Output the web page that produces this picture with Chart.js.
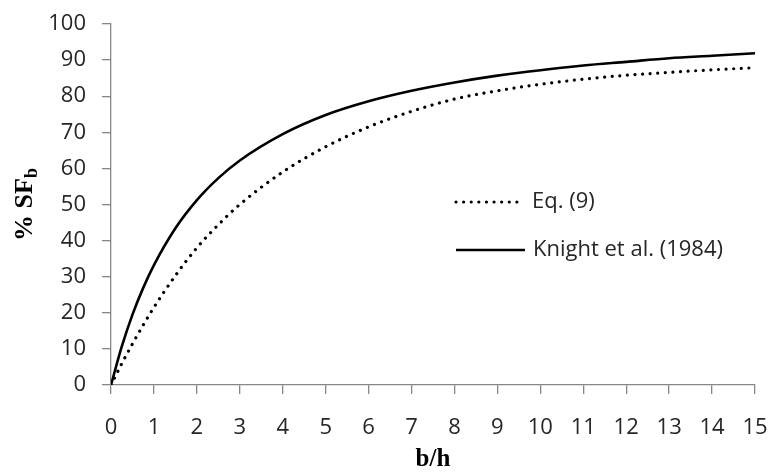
<!DOCTYPE html>
<html>
<head>
<meta charset="utf-8">
<script src="https://cdn.jsdelivr.net/npm/chart.js@4/dist/chart.umd.min.js"></script>
<style>
  html, body { margin: 0; padding: 0; background: #fff; }
  #wrap { width: 768px; height: 472px; }
</style>
</head>
<body>
<div id="wrap"><canvas id="c" width="768" height="472"></canvas></div>
<script>
// b/h values (x)
const bh = [0, 0.25, 0.5, 0.75, 1, 1.5, 2, 2.5, 3, 4, 5, 6, 7, 8, 9, 10, 11, 12, 13, 14, 15];
// Eq. (9) — dotted curve
const eq9 = [0, 5.9, 11.4, 16.6, 21.5, 30.3, 38, 44.4, 50, 59, 66, 71.5, 75.8, 79.2, 81.5, 83.3, 84.7, 85.8, 86.6, 87.3, 87.9];
// Knight et al. (1984) — solid curve
const knight = [0, 10.6, 19.5, 26.9, 33.2, 43.4, 51.2, 57.3, 62.2, 69.5, 74.8, 78.6, 81.5, 83.8, 85.7, 87.2, 88.5, 89.5, 90.5, 91.2, 91.9];
// tick values
const xTicks = [0,1,2,3,4,5,6,7,8,9,10,11,12,13,14,15];
const yTicks = [0,10,20,30,40,50,60,70,80,90,100];
const seriesNames = ['Eq. (9)', 'Knight et al. (1984)'];
const xTitle = 'b/h';
const yTitleMain = '% SF';
const yTitleSub = 'b';

const toPts = (ys) => bh.map((x, i) => ({ x: x, y: ys[i] }));

const tickFont = { family: "'Open Sans', sans-serif", size: 22 };
const axisGrey = '#878787';

const legendPlugin = {
  id: 'customLegend',
  afterDatasetsDraw(chart) {
    const ctx = chart.ctx;
    const items = [
      { ds: chart.data.datasets[0], y: 202, x0: 456, x1: 517, tx: 532 },
      { ds: chart.data.datasets[1], y: 250, x0: 456, x1: 525, tx: 533 }
    ];
    ctx.save();
    items.forEach(it => {
      ctx.beginPath();
      ctx.strokeStyle = it.ds.borderColor;
      ctx.lineWidth = it.ds.borderWidth;
      ctx.lineCap = it.ds.borderCapStyle || 'butt';
      ctx.setLineDash(it.ds.borderDash || []);
      ctx.moveTo(it.x0, it.y);
      ctx.lineTo(it.x1, it.y);
      ctx.stroke();
      ctx.setLineDash([]);
      ctx.fillStyle = '#262626';
      ctx.font = "22px 'Open Sans', sans-serif";
      ctx.textBaseline = 'middle';
      ctx.textAlign = 'left';
      ctx.fillText(it.ds.label, it.tx, it.y);
    });
    ctx.restore();
  }
};

const yTitlePlugin = {
  id: 'yTitle',
  afterDraw(chart) {
    const ctx = chart.ctx;
    const area = chart.chartArea;
    const cy = (area.top + area.bottom) / 2;
    ctx.save();
    ctx.translate(32, cy);
    ctx.rotate(-Math.PI / 2);
    ctx.fillStyle = '#000';
    ctx.textBaseline = 'alphabetic';
    ctx.font = "bold 26px 'Liberation Serif', serif";
    const wMain = ctx.measureText(yTitleMain).width;
    ctx.font = "bold 18px 'Liberation Serif', serif";
    const wSub = ctx.measureText(yTitleSub).width;
    const total = wMain + wSub;
    ctx.font = "bold 26px 'Liberation Serif', serif";
    ctx.textAlign = 'left';
    ctx.fillText(yTitleMain, -total / 2, 0);
    ctx.font = "bold 18px 'Liberation Serif', serif";
    ctx.fillText(yTitleSub, -total / 2 + wMain, 5);
    ctx.restore();
  }
};

new Chart(document.getElementById('c'), {
  type: 'scatter',
  data: {
    datasets: [
      {
        label: seriesNames[0],
        data: toPts(eq9),
        showLine: true,
        borderColor: '#000',
        backgroundColor: '#000',
        borderWidth: 3.2,
        borderDash: [0.01, 7.6],
        borderCapStyle: 'round',
        pointRadius: 0,
        cubicInterpolationMode: 'monotone'
      },
      {
        label: seriesNames[1],
        data: toPts(knight),
        showLine: true,
        borderColor: '#000',
        backgroundColor: '#000',
        borderWidth: 2.6,
        pointRadius: 0,
        cubicInterpolationMode: 'monotone'
      }
    ]
  },
  options: {
    responsive: false,
    animation: false,
    events: [],
    layout: { padding: { left: 0, right: 13, top: 24, bottom: 0 } },
    plugins: {
      legend: { display: false },
      tooltip: { enabled: false }
    },
    scales: {
      x: {
        type: 'linear',
        min: 0, max: 15,
        afterBuildTicks(scale) { scale.ticks = xTicks.map(v => ({ value: v })); },
        afterFit(scale) { scale.height = 87; scale.paddingLeft = 0; scale.paddingRight = 0; },
        border: { display: true, color: axisGrey, width: 1.3 },
        grid: { display: true, drawOnChartArea: false, drawTicks: true, tickLength: 9, color: axisGrey, lineWidth: 1.3 },
        ticks: { font: tickFont, color: '#262626', padding: 21, maxRotation: 0, autoSkip: false },
        title: { display: true, text: xTitle, color: '#000', font: { family: "'Liberation Serif', serif", size: 25, weight: 'bold', lineHeight: 1 }, padding: { top: 0, bottom: 0 } }
      },
      y: {
        type: 'linear',
        min: 0, max: 100,
        afterBuildTicks(scale) { scale.ticks = yTicks.map(v => ({ value: v })); },
        afterFit(scale) { scale.width = 111; scale.paddingTop = 0; scale.paddingBottom = 0; },
        border: { display: true, color: axisGrey, width: 1.3 },
        grid: { display: true, drawOnChartArea: false, drawTicks: true, tickLength: 9, color: axisGrey, lineWidth: 1.3 },
        ticks: { font: tickFont, color: '#262626', padding: 16, autoSkip: false }
      }
    }
  },
  plugins: [legendPlugin, yTitlePlugin]
});
</script>
</body>
</html>
